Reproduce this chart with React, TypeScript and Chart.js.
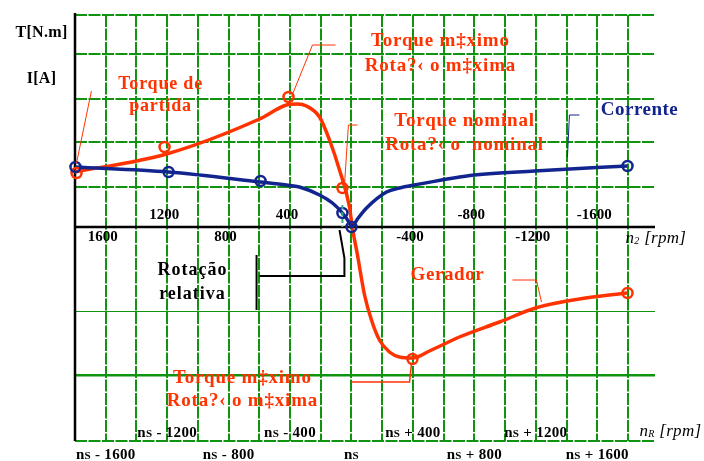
import React, { useEffect, useRef } from "react";
import { Chart, registerables } from "chart.js";

Chart.register(...registerables);

// x: slip speed nR - nS [rpm]; y: torque / current (arbitrary units)
const torqueSlip = [-1800, -1204, -599, -423, -352, -293, -208, -143, -78, -13, 5, 39, 85, 130, 182, 247, 312, 397, 508, 703, 964, 1198, 1484, 1797];
const torqueValues = [55, 73, 108, 122, 123, 121, 110, 87, 57, 20, 0, -28, -68, -93, -113, -125, -130, -131, -124, -110, -95, -81, -72, -66];

const currentSlip = [-1800, -1191, -592, -423, -339, -208, -124, -59, -13, 0, 39, 98, 228, 312, 410, 801, 1191, 1797];
const currentValues = [60, 55, 45, 42, 40, 32, 24, 14, 4, 0, 8, 19, 35, 39, 42, 52, 56, 61];

const torqueMarkSlip = [-1790, -1217, -410, -59, 397, 1797];
const torqueMarkValues = [54, 80, 130, 39, -132, -66];

const currentMarkSlip = [-1797, -1191, -592, -59, 0, 1797];
const currentMarkValues = [60, 55, 46, 14, 0, 61];

// rotor speed n2 labels (placed at slip = -n2) and nR offsets from nS
const n2TickLabels = [1600, 1200, 800, 400, -400, -800, -1200, -1600];
const nRTickOffsets = [-1600, -1200, -800, -400, 0, 400, 800, 1200, 1600];

// grid levels
const xGridLines = [-1600, -1400, -1200, -1000, -800, -600, -400, -200, 0, 200, 400, 600, 800, 1000, 1200, 1400, 1600, 1800];
const yGridLines = [212, 173, 128, 85, 40, -84, -148, -214];

const X_MIN = -1800;
const X_MAX = 1976;
const Y_MIN = -214;
const Y_MAX = 212;

const RED = "#ff3300";
const NAVY = "#12258f";
const GREEN = "#109410";
const SERIF = '"Liberation Serif", "Times New Roman", serif';

type Label = { lines: string[]; x: number; y: number; color: string; size: number; gap: number; spacing: number };

const labels: Label[] = [
  { lines: ["T[N.m]"], x: -2018, y: 194, color: "#000", size: 16, gap: 0, spacing: 0.3 },
  { lines: ["I[A]"], x: -2018, y: 148, color: "#000", size: 16, gap: 0, spacing: 0.3 },
  { lines: ["Torque de", "partida"], x: -1243, y: 143, color: RED, size: 18, gap: 22, spacing: 0.8 },
  { lines: ["Torque m‡ximo", "Rota?‹ o m‡xima"], x: 579, y: 186, color: RED, size: 19, gap: 25, spacing: 0.8 },
  { lines: ["Torque nominal", "Rota?‹ o  nominal"], x: 736, y: 106, color: RED, size: 19, gap: 24, spacing: 0.8 },
  { lines: ["Corrente"], x: 1875, y: 117, color: NAVY, size: 19, gap: 0, spacing: 0.5 },
  { lines: ["Gerador"], x: 625, y: -48, color: RED, size: 19, gap: 0, spacing: 0.6 },
  { lines: ["Torque m‡ximo", "Rota?‹ o m‡xima"], x: -710, y: -151, color: RED, size: 19, gap: 23, spacing: 0.8 },
  { lines: ["Rotação", "relativa"], x: -1035, y: -43, color: "#000", size: 18, gap: 24, spacing: 1 },
];

type Leader = { pts: number[][]; color: string; width: number; dash?: number[] };

const leaders: Leader[] = [
  { pts: [[-1790, 64], [-1693, 136]], color: RED, width: 1 },
  { pts: [[-391, 130], [-254, 182], [-104, 182]], color: RED, width: 1 },
  { pts: [[-46, 41], [-20, 102], [39, 102]], color: RED, width: 1 },
  { pts: [[1406, 70], [1419, 112], [1484, 112]], color: NAVY, width: 1 },
  { pts: [[1048, -53], [1204, -53], [1237, -75]], color: RED, width: 1 },
  { pts: [[0, -155], [378, -155], [391, -136]], color: RED, width: 1.5 },
  { pts: [[-618, -28], [-618, -83]], color: "#000", width: 2 },
  { pts: [[-599, -49], [-46, -49], [-46, -31], [-78, -3]], color: "#000", width: 2 },
  { pts: [[-59, 22], [-59, 0]], color: "#3aa88a", width: 2, dash: [4, 3] },
];

type Run = { t: string; font: string; dy?: number };

function drawRuns(ctx: CanvasRenderingContext2D, runs: Run[], x: number, y: number, align: "center" | "left", color: string, spacing: number) {
  ctx.save();
  ctx.fillStyle = color;
  ctx.textBaseline = "alphabetic";
  ctx.textAlign = "left";
  (ctx as any).letterSpacing = spacing + "px";
  let w = 0;
  for (const r of runs) {
    ctx.font = r.font;
    w += ctx.measureText(r.t).width;
  }
  let cx = align === "center" ? x - w / 2 : x;
  for (const r of runs) {
    ctx.font = r.font;
    ctx.fillText(r.t, cx, y + (r.dy || 0));
    cx += ctx.measureText(r.t).width;
  }
  ctx.restore();
}

const overlayPlugin = {
  id: "overlay",
  beforeDatasetsDraw(chart: any) {
    const { ctx, chartArea, scales } = chart;
    const ys = scales.y;
    ctx.save();
    ctx.strokeStyle = "#000";
    ctx.lineWidth = 2.5;
    ctx.beginPath();
    ctx.moveTo(chartArea.left, chartArea.top - 2);
    ctx.lineTo(chartArea.left, chartArea.bottom);
    const y0 = ys.getPixelForValue(0);
    ctx.moveTo(chartArea.left, y0);
    ctx.lineTo(chartArea.right, y0);
    ctx.stroke();
    ctx.restore();
  },
  afterDatasetsDraw(chart: any) {
    const { ctx, scales } = chart;
    const xs = scales.x;
    const ys = scales.y;
    const px = (v: number) => xs.getPixelForValue(v);
    const py = (v: number) => ys.getPixelForValue(v);

    // leader lines
    for (const l of leaders) {
      ctx.save();
      ctx.strokeStyle = l.color;
      ctx.lineWidth = l.width;
      ctx.setLineDash(l.dash || []);
      ctx.beginPath();
      l.pts.forEach((p, i) => (i === 0 ? ctx.moveTo(px(p[0]), py(p[1])) : ctx.lineTo(px(p[0]), py(p[1]))));
      ctx.stroke();
      ctx.restore();
    }

    // annotation labels
    for (const lab of labels) {
      ctx.save();
      ctx.fillStyle = lab.color;
      ctx.font = `bold ${lab.size}px ${SERIF}`;
      ctx.textAlign = "center";
      ctx.textBaseline = "middle";
      (ctx as any).letterSpacing = lab.spacing + "px";
      lab.lines.forEach((t, i) => ctx.fillText(t, px(lab.x), py(lab.y) + i * lab.gap));
      ctx.restore();
    }

    // n2 labels (alternating rows around the horizontal axis)
    n2TickLabels.forEach((v, i) => {
      const top = i % 2 === 1;
      ctx.save();
      ctx.fillStyle = "#000";
      ctx.font = `bold 15px ${SERIF}`;
      ctx.textAlign = "center";
      ctx.textBaseline = "middle";
      ctx.fillText(String(v), px(-v) - 3, py(top ? 12 : -10));
      ctx.restore();
    });
    drawRuns(
      ctx,
      [
        { t: "n", font: `italic 17px ${SERIF}` },
        { t: "2", font: `italic 10px ${SERIF}`, dy: 1 },
        { t: " [rpm]", font: `italic 17px ${SERIF}` },
      ],
      px(1784),
      py(-16),
      "left",
      "#000",
      0.3
    );

    // nR labels
    nRTickOffsets.forEach((v, i) => {
      const top = i % 2 === 1;
      const rest = v < 0 ? " - " + Math.abs(v) : v > 0 ? " + " + v : "";
      drawRuns(
        ctx,
        [
          { t: "n", font: `bold 15px ${SERIF}` },
          { t: "S", font: `bold 11px ${SERIF}`, dy: 0 },
          { t: rest, font: `bold 15px ${SERIF}` },
        ],
        px(v),
        py(top ? -210 : -232),
        "center",
        "#000",
        0.3
      );
    });
    drawRuns(
      ctx,
      [
        { t: "n", font: `italic 17px ${SERIF}` },
        { t: "R", font: `italic 10px ${SERIF}`, dy: 1 },
        { t: " [rpm]", font: `italic 17px ${SERIF}` },
      ],
      px(1875),
      py(-209),
      "left",
      "#000",
      0.3
    );
  },
};

function pts(xs: number[], ys: number[]) {
  return xs.map((x, i) => ({ x, y: ys[i] }));
}

export default function App() {
  const ref = useRef<HTMLCanvasElement>(null);
  useEffect(() => {
    document.body.style.margin = "0";
    const chart = new Chart(ref.current!, {
      type: "line",
      data: {
        datasets: [
          {
            label: "Corrente (marcas)",
            data: pts(currentMarkSlip, currentMarkValues),
            showLine: false,
            pointRadius: 5,
            pointBorderWidth: 2.5,
            pointBorderColor: NAVY,
            pointBackgroundColor: "rgba(0,0,0,0)",
            clip: false,
          } as any,
          {
            label: "Torque (marcas)",
            data: pts(torqueMarkSlip, torqueMarkValues),
            showLine: false,
            pointRadius: 5,
            pointBorderWidth: 2.5,
            pointBorderColor: RED,
            pointBackgroundColor: "rgba(0,0,0,0)",
            clip: false,
          } as any,
          {
            label: "Corrente",
            data: pts(currentSlip, currentValues),
            borderColor: NAVY,
            borderWidth: 3.5,
            pointRadius: 0,
            cubicInterpolationMode: "monotone",
            fill: false,
            clip: false,
          } as any,
          {
            label: "Torque",
            data: pts(torqueSlip, torqueValues),
            borderColor: RED,
            borderWidth: 3.5,
            pointRadius: 0,
            cubicInterpolationMode: "monotone",
            fill: false,
            clip: false,
          } as any,
        ],
      },
      options: {
        animation: false,
        responsive: false,
        maintainAspectRatio: false,
        layout: { padding: { left: 75, top: 15, right: 49, bottom: 20 } },
        plugins: { legend: { display: false }, tooltip: { enabled: false } },
        events: [],
        scales: {
          x: {
            type: "linear",
            min: X_MIN,
            max: X_MAX,
            afterBuildTicks: (s: any) => {
              s.ticks = xGridLines.map((v) => ({ value: v }));
            },
            ticks: { display: false },
            grid: { color: GREEN, lineWidth: 2, drawTicks: false },
            border: { display: false, dash: [12, 1.5] },
          },
          y: {
            type: "linear",
            min: Y_MIN,
            max: Y_MAX,
            afterBuildTicks: (s: any) => {
              s.ticks = yGridLines.map((v) => ({ value: v }));
            },
            ticks: { display: false },
            grid: {
              color: GREEN,
              lineWidth: (c: any) => (c.tick && c.tick.value === -84 ? 1 : c.tick && c.tick.value === -148 ? 2.5 : 2),
              drawTicks: false,
            },
            border: {
              display: false,
              dash: (c: any) => (c.tick && (c.tick.value === -84 || c.tick.value === -148) ? [] : [12, 1.5]),
            },
          },
        } as any,
      },
      plugins: [overlayPlugin],
    });
    return () => chart.destroy();
  }, []);
  return (
    <div style={{ position: "absolute", left: 0, top: 0, width: 704, height: 461 }}>
      <canvas ref={ref} width={704} height={461} style={{ display: "block" }} />
    </div>
  );
}
